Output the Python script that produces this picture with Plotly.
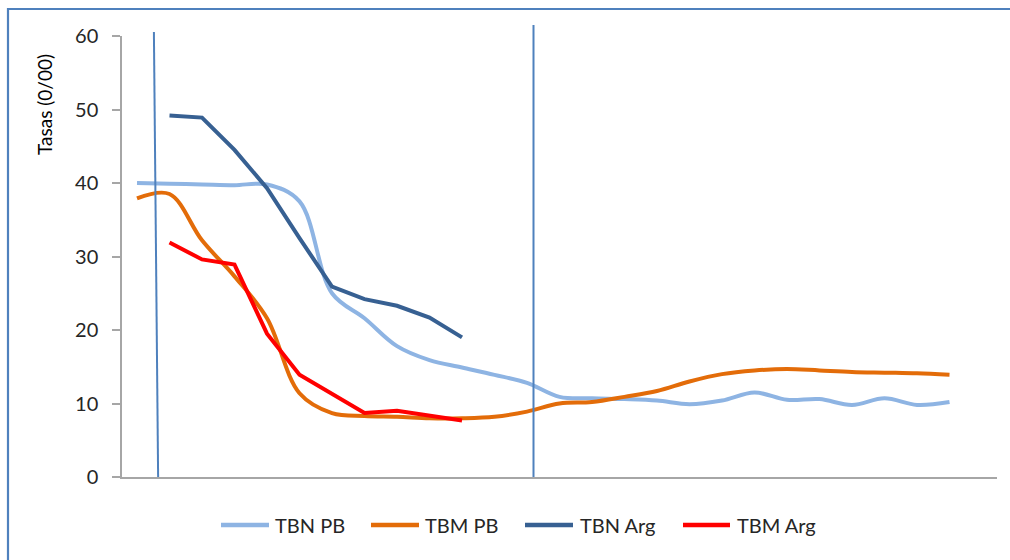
import plotly.graph_objects as go

# ---- data ----
periods = list(range(26))
tbn_pb = [40.0, 39.9, 39.8, 39.7, 39.8, 37.5, 25.0, 21.6, 17.8, 15.9, 14.9, 13.9, 12.8,
          10.9, 10.7, 10.6, 10.4, 9.9, 10.4, 11.5, 10.5, 10.6, 9.8, 10.7, 9.8, 10.2]
tbm_pb = [37.9, 38.5, 32.2, 27.3, 21.6, 11.4, 8.7, 8.3, 8.2, 8.0, 8.0, 8.2, 8.9,
          10.0, 10.2, 10.9, 11.7, 13.0, 14.0, 14.5, 14.7, 14.5, 14.3, 14.2, 14.1, 13.9]
arg_periods = list(range(1, 11))
tbn_arg = [49.2, 48.9, 44.5, 39.3, 32.5, 25.9, 24.2, 23.3, 21.7, 19.0]
tbm_arg = [31.9, 29.6, 28.9, 19.5, 13.9, 11.3, 8.7, 9.0, 8.4, 7.7]
y_ticks = [0, 10, 20, 30, 40, 50, 60]
series_names = ["TBN PB", "TBM PB", "TBN Arg", "TBM Arg"]
series_colors = ["#8EB4E3", "#E36C09", "#376092", "#FF0000"]
marker_lines = [(0.52, 0.65, 1.009), (12.2, 12.2, 1.025)]  # (x top, x bottom, top in paper)

FONT = "Lato"
TXT = "#262626"
W, H = 1010, 560
L, R, T, B = 122, 997, 36, 477   # plot area in pixels
PW, PH = R - L, B - T


def px_x(p):
    return (p - L) / PW


def px_y(p):
    return (B - p) / PH


fig = go.Figure()
fig.add_trace(go.Scatter(x=periods, y=tbn_pb, name=series_names[0], mode="lines",
                         line=dict(color=series_colors[0], width=4, shape="spline")))
fig.add_trace(go.Scatter(x=periods, y=tbm_pb, name=series_names[1], mode="lines",
                         line=dict(color=series_colors[1], width=4, shape="spline")))
fig.add_trace(go.Scatter(x=arg_periods, y=tbn_arg, name=series_names[2], mode="lines",
                         line=dict(color=series_colors[2], width=4)))
fig.add_trace(go.Scatter(x=arg_periods, y=tbm_arg, name=series_names[3], mode="lines",
                         line=dict(color=series_colors[3], width=4)))

for xt, xb, top in marker_lines:
    fig.add_shape(type="line", xref="x", yref="paper", x0=xb, y0=0, x1=xt, y1=top,
                  line=dict(color="#4F81BD", width=2), layer="above")

# chart border
fig.add_shape(type="rect", xref="paper", yref="paper",
              x0=px_x(8), y0=px_y(580), x1=px_x(1040), y1=px_y(9),
              line=dict(color="#4F81BD", width=2.2), fillcolor="rgba(0,0,0,0)", layer="below")

# manual legend
leg_y = px_y(525)
leg_x = [(221, 269, 273), (371, 419, 423), (525, 573, 578), (683, 730, 735)]
for (x0, x1, xt), name, col in zip(leg_x, series_names, series_colors):
    fig.add_shape(type="line", xref="paper", yref="paper", x0=px_x(x0), x1=px_x(x1),
                  y0=leg_y, y1=leg_y, line=dict(color=col, width=4.5))
    fig.add_annotation(xref="paper", yref="paper", x=px_x(xt), y=leg_y, text=name,
                       showarrow=False, xanchor="left", yanchor="middle",
                       font=dict(size=20, family=FONT, color=TXT))

# y axis title
fig.add_annotation(xref="paper", yref="paper", x=px_x(45), y=px_y(105), text="Tasas (0/00)",
                   textangle=-90, showarrow=False, xanchor="center", yanchor="middle",
                   font=dict(size=19, family=FONT, color="#000000"))

fig.update_layout(
    width=W, height=H,
    margin=dict(l=L, r=W - R, t=T, b=H - B),
    paper_bgcolor="white", plot_bgcolor="white",
    font=dict(family=FONT, color=TXT),
    showlegend=False,
    xaxis=dict(range=[-15/32.5, (997 - 137)/32.5], showticklabels=False, showgrid=False,
               zeroline=False, showline=True, linecolor="#A6A6A6", linewidth=1.5,
               ticks=""),
    yaxis=dict(range=[0, 60], tickvals=y_ticks, showgrid=False, zeroline=False,
               showline=True, linecolor="#A6A6A6", linewidth=1.5,
               ticks="outside", ticklen=8, tickcolor="#A6A6A6", tickwidth=1.5,
               ticklabelstandoff=10,
               tickfont=dict(size=20, family=FONT, color=TXT)),
)

fig.write_html("out.html")
